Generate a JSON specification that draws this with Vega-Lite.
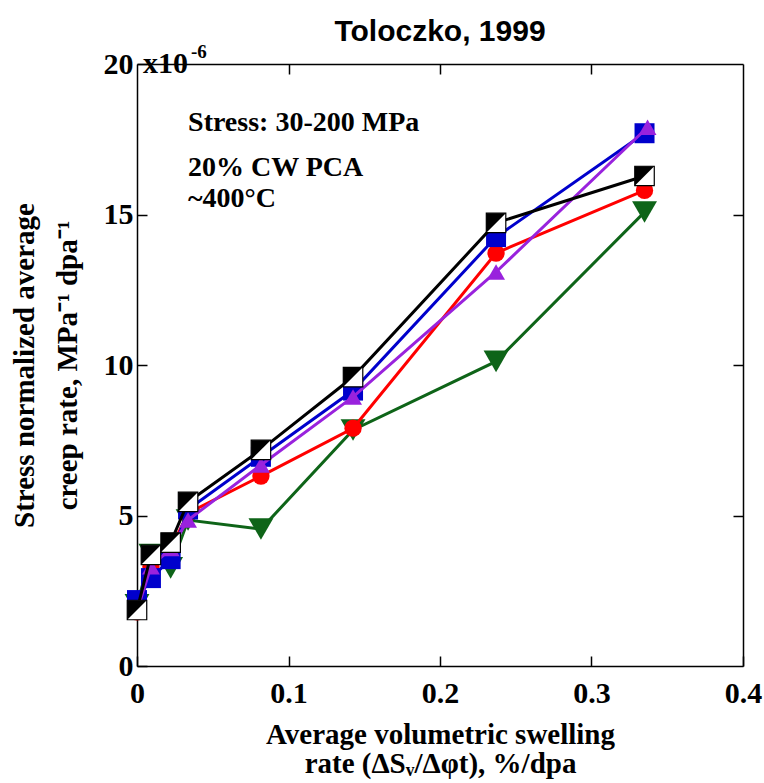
{
  "$schema": "https://vega.github.io/schema/vega-lite/v6.json",
  "width": 606,
  "height": 602,
  "autosize": "none",
  "padding": {"left": 137, "top": 64, "right": 21, "bottom": 117},
  "title": {"text": "Toloczko, 1999", "font": "Liberation Sans", "fontSize": 30, "fontWeight": "bold", "anchor": "middle", "offset": -4, "color": "black"},
  "config": {
    "view": {"stroke": null},
    "axis": {
      "domainColor": "black", "domainWidth": 1.5, "tickColor": "black", "tickWidth": 1.5,
      "tickSize": -10, "grid": false,
      "labelFont": "Liberation Serif", "labelFontWeight": "bold", "labelFontSize": 30, "labelColor": "black",
      "titleFont": "Liberation Serif", "titleFontWeight": "bold", "titleFontSize": 29, "titleColor": "black"
    }
  },
  "data": {"values": [
    {"s": "black", "x": 0, "y": 1.86},
    {"s": "black", "x": 0.0092, "y": 3.69},
    {"s": "black", "x": 0.0222, "y": 4.1},
    {"s": "black", "x": 0.0337, "y": 5.45},
    {"s": "black", "x": 0.0818, "y": 7.18},
    {"s": "black", "x": 0.1426, "y": 9.6},
    {"s": "black", "x": 0.237, "y": 14.72},
    {"s": "black", "x": 0.335, "y": 16.28},
    {"s": "blue", "x": 0, "y": 2.19},
    {"s": "blue", "x": 0.0092, "y": 2.92},
    {"s": "blue", "x": 0.0222, "y": 3.55},
    {"s": "blue", "x": 0.0337, "y": 5.2},
    {"s": "blue", "x": 0.0818, "y": 6.95},
    {"s": "blue", "x": 0.1426, "y": 9.15},
    {"s": "blue", "x": 0.237, "y": 14.25},
    {"s": "blue", "x": 0.335, "y": 17.7},
    {"s": "red", "x": 0, "y": 1.8},
    {"s": "red", "x": 0.0092, "y": 3.3},
    {"s": "red", "x": 0.0222, "y": 3.9},
    {"s": "red", "x": 0.0337, "y": 5.08},
    {"s": "red", "x": 0.0818, "y": 6.31},
    {"s": "red", "x": 0.1426, "y": 7.9},
    {"s": "red", "x": 0.237, "y": 13.72},
    {"s": "red", "x": 0.335, "y": 15.8},
    {"s": "purple", "x": 0, "y": 1.83},
    {"s": "purple", "x": 0.0092, "y": 3.3},
    {"s": "purple", "x": 0.0222, "y": 3.9},
    {"s": "purple", "x": 0.0337, "y": 4.85},
    {"s": "purple", "x": 0.0818, "y": 6.68},
    {"s": "purple", "x": 0.1426, "y": 8.94},
    {"s": "purple", "x": 0.237, "y": 13.09},
    {"s": "purple", "x": 0.337, "y": 17.9},
    {"s": "green", "x": 0, "y": 2.03},
    {"s": "green", "x": 0.0092, "y": 3.7},
    {"s": "green", "x": 0.0222, "y": 3.26},
    {"s": "green", "x": 0.0337, "y": 4.85},
    {"s": "green", "x": 0.0818, "y": 4.55},
    {"s": "green", "x": 0.1426, "y": 7.84},
    {"s": "green", "x": 0.237, "y": 10.12},
    {"s": "green", "x": 0.335, "y": 15.08}
  ]},
  "layer": [
    {
      "encoding": {
        "x": {"field": "x", "type": "quantitative", "scale": {"domain": [0, 0.4], "nice": false, "zero": false},
          "axis": {"orient": "bottom", "values": [0, 0.1, 0.2, 0.3, 0.4], "format": "~g", "labelPadding": 22, "labelFlush": false,
            "title": ["Average volumetric swelling", "rate (ΔSᵥ/Δφt), %/dpa"], "titleLineHeight": 29, "titlePadding": 12}},
        "y": {"field": "y", "type": "quantitative", "scale": {"domain": [0, 20], "nice": false, "zero": false},
          "axis": {"orient": "left", "values": [0, 5, 10, 15, 20], "format": "d", "labelPadding": 14, "labelFlush": false,
            "title": ["Stress normalized average", "creep rate, MPa⁻¹ dpa⁻¹"], "titleLineHeight": 43, "titlePadding": 21}}
      },
      "layer": [
        {"transform": [{"filter": "datum.s === 'green'"}], "mark": {"type": "line", "color": "#0e6418", "strokeWidth": 3}},
        {"transform": [{"filter": "datum.s === 'green'"}], "mark": {"type": "point", "shape": "triangle-down", "filled": true, "opacity": 1, "color": "#0e6418", "size": 620}},
        {"transform": [{"filter": "datum.s === 'red'"}], "mark": {"type": "line", "color": "#ff0000", "strokeWidth": 3}},
        {"transform": [{"filter": "datum.s === 'red'"}], "mark": {"type": "point", "shape": "circle", "filled": true, "opacity": 1, "color": "#ff0000", "size": 300}},
        {"transform": [{"filter": "datum.s === 'blue'"}], "mark": {"type": "line", "color": "#0000cc", "strokeWidth": 3}},
        {"transform": [{"filter": "datum.s === 'blue'"}], "mark": {"type": "point", "shape": "square", "filled": true, "opacity": 1, "color": "#0000cc", "size": 400}},
        {"transform": [{"filter": "datum.s === 'purple'"}], "mark": {"type": "line", "color": "#9922dd", "strokeWidth": 3}},
        {"transform": [{"filter": "datum.s === 'purple'"}], "mark": {"type": "point", "shape": "triangle-up", "filled": true, "opacity": 1, "color": "#9922dd", "size": 320}},
        {"transform": [{"filter": "datum.s === 'black'"}], "mark": {"type": "line", "color": "black", "strokeWidth": 3}},
        {"transform": [{"filter": "datum.s === 'black'"}], "mark": {"type": "point", "shape": "square", "filled": true, "opacity": 1, "fill": "white", "stroke": "black", "strokeWidth": 1.2, "size": 380}},
        {"transform": [{"filter": "datum.s === 'black'"}], "mark": {"type": "point", "shape": "M-1,-1L1,-1L-1,1Z", "filled": true, "opacity": 1, "color": "black", "size": 380}},
        {
          "data": {"values": [
            {"x": 0.0337, "y": 18.05, "t": "Stress: 30-200 MPa"},
            {"x": 0.0337, "y": 16.55, "t": "20% CW PCA"},
            {"x": 0.0337, "y": 15.5, "t": "~400°C"}
          ]},
          "mark": {"type": "text", "align": "left", "baseline": "middle", "font": "Liberation Serif", "fontWeight": "bold", "fontSize": 28, "color": "black"},
          "encoding": {"text": {"field": "t"}}
        },
        {
          "data": {"values": [{"x": 0, "y": 20, "t": "x10"}]},
          "mark": {"type": "text", "align": "left", "baseline": "middle", "dx": 6, "font": "Liberation Serif", "fontWeight": "bold", "fontSize": 30, "color": "black"},
          "encoding": {"text": {"field": "t"}}
        },
        {
          "data": {"values": [{"x": 0, "y": 20, "t": "-6"}]},
          "mark": {"type": "text", "align": "left", "baseline": "middle", "dx": 54, "dy": -12, "font": "Liberation Serif", "fontWeight": "bold", "fontSize": 19, "color": "black"},
          "encoding": {"text": {"field": "t"}}
        }
      ]
    },
    {
      "transform": [{"filter": "datum.s === 'black'"}],
      "mark": {"type": "point", "opacity": 0},
      "encoding": {
        "x": {"field": "x", "type": "quantitative", "scale": {"domain": [0, 0.4], "nice": false, "zero": false},
          "axis": {"orient": "top", "values": [0.1, 0.2, 0.3], "labels": false, "title": null}},
        "y": {"field": "y", "type": "quantitative", "scale": {"domain": [0, 20], "nice": false, "zero": false},
          "axis": {"orient": "right", "values": [5, 10, 15], "labels": false, "title": null}}
      }
    }
  ],
  "resolve": {"axis": {"x": "independent", "y": "independent"}}
}
